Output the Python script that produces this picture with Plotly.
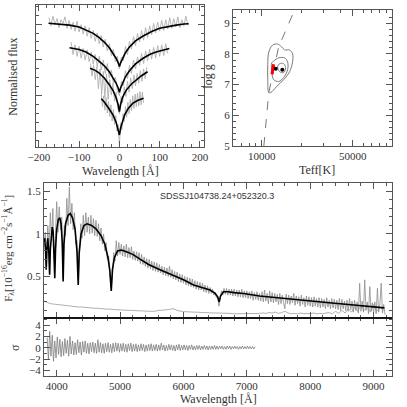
import numpy as np
import plotly.graph_objects as go

# ---------------- top-left: normalised Balmer line profiles (offset) ----------------
hb_model_x = [-176, -150, -124, -100, -83, -65, -50, -37, -25, -15, -8, -3, 0, 3, 8, 15, 25, 40, 58, 80, 100, 120, 141, 160, 172]
hb_model_y = [4.02, 4.00, 3.97, 3.92, 3.84, 3.74, 3.62, 3.49, 3.34, 3.18, 3.04, 2.92, 2.82, 2.92, 3.05, 3.20, 3.36, 3.53, 3.66, 3.79, 3.88, 3.93, 3.97, 4.00, 4.01]
hg_model_x = [-124, -100, -83, -65, -50, -37, -25, -15, -8, -3, 0, 3, 8, 15, 25, 40, 58, 75, 91, 108, 124]
hg_model_y = [3.34, 3.29, 3.22, 3.10, 2.96, 2.83, 2.67, 2.50, 2.35, 2.22, 2.10, 2.22, 2.37, 2.53, 2.70, 2.89, 3.04, 3.15, 3.22, 3.28, 3.32]
hd_model_x = [-73, -60, -50, -37, -25, -15, -8, -3, 0, 3, 8, 17, 30, 41, 55, 70]
hd_model_y = [2.77, 2.71, 2.63, 2.49, 2.31, 2.13, 1.94, 1.75, 1.56, 1.76, 1.96, 2.16, 2.33, 2.44, 2.56, 2.67]
he_model_x = [-45, -37, -27, -16, -8, -3, 0, 3, 8, 13, 22, 33, 45, 60]
he_model_y = [1.92, 1.82, 1.66, 1.47, 1.26, 1.08, 0.91, 1.10, 1.30, 1.47, 1.65, 1.79, 1.87, 1.93]

hb_data = [4.18, 3.95, 4.22, 3.98, 4.15, 3.90, 4.12, 4.02, 4.20, 3.88,
           4.10, 3.85, 4.05, 3.80, 4.08, 3.78, 3.98, 3.72, 3.95, 3.66,
           3.90, 3.60, 3.82, 3.52, 3.75, 3.45, 3.68, 3.36, 3.58, 3.25,
           3.45, 3.12, 3.30, 2.95, 3.10, 2.75, 3.08, 2.98, 3.38, 3.15,
           3.52, 3.30, 3.65, 3.40, 3.74, 3.50, 3.82, 3.55, 3.90, 3.62,
           3.95, 3.70, 4.02, 3.75, 4.05, 3.80, 4.10, 3.82, 4.12, 3.86,
           4.18, 3.88, 4.15, 3.92, 4.20, 3.90, 4.12, 3.95, 4.22, 3.96]
hg_data = [3.50, 3.15, 3.42, 3.10, 3.38, 3.05, 3.32, 3.00, 3.28, 2.95,
           3.22, 2.88, 3.15, 2.80, 3.10, 2.72, 3.00, 2.62, 2.90, 2.50,
           2.72, 2.35, 2.52, 2.15, 2.00, 2.40, 2.28, 2.70, 2.48, 2.85,
           2.62, 3.00, 2.75, 3.08, 2.85, 3.18, 2.90, 3.25, 2.98, 3.30,
           3.02, 3.35, 3.05, 3.40, 3.10, 3.42, 3.12, 3.45, 3.18]
hd_data = [2.90, 2.55, 2.85, 2.45, 2.80, 2.20, 2.75, 2.05, 2.68, 1.95,
           2.60, 1.90, 2.45, 2.02, 2.35, 1.85, 2.10, 1.65, 1.50, 1.98,
           1.80, 2.25, 1.98, 2.40, 2.10, 2.50, 2.20, 2.58, 2.28, 2.62,
           2.35, 2.70, 2.40, 2.75, 2.48, 2.80]
he_data = [2.05, 1.70, 2.00, 1.60, 1.95, 1.52, 1.85, 1.42, 1.75, 1.30,
           1.62, 1.20, 1.45, 1.02, 1.20, 0.62, 1.25, 1.05, 1.50, 1.28,
           1.70, 1.40, 1.82, 1.50, 1.90, 1.58, 2.00, 1.65, 2.05, 1.70,
           2.08, 1.72, 2.12, 1.75, 2.10, 1.80]

# ---------------- top-right: chi^2 contours in Teff / log g ----------------
c_outer_teff = [11300, 11100, 11100, 11300, 12120, 13230, 14190, 14960, 16330, 17220, 17220, 16330, 14690, 13000, 11700, 11300]
c_outer_logg = [6.74, 7.16, 7.65, 8.06, 8.29, 8.32, 8.23, 8.13, 8.13, 8.00, 7.74, 7.42, 7.16, 6.94, 6.74, 6.74]
c_mid_teff = [11910, 11910, 12340, 13460, 14690, 15760, 15760, 14960, 13460, 12340, 11910]
c_mid_logg = [7.71, 7.42, 7.16, 7.10, 7.23, 7.48, 7.74, 7.87, 7.87, 7.77, 7.71]
c_in_teff = [13230, 13700, 14690, 15220, 14690, 13700, 13230]
c_in_logg = [7.58, 7.42, 7.39, 7.55, 7.68, 7.68, 7.58]
best_teff = [12780, 14360]
best_logg = [7.52, 7.48]
red_teff = [12300, 12150, 12020, 11950, 12080]
red_logg = [7.66, 7.56, 7.45, 7.34, 7.42]
max_teff = [10356, 11300, 13460, 17820]
max_logg = [5.00, 6.74, 8.23, 9.42]

# ---------------- main: SDSS spectrum, model, noise ----------------
spec_start, spec_step = 3800, 20
spec_flux = [0.85, 1.02, 0.62, 1.10, 0.80, 1.25, 0.92, 1.30, 0.70, 0.95,
             1.38, 1.02, 1.32, 1.05, 1.20, 0.48, 1.10, 0.98, 1.42, 1.10,
             1.55, 1.12, 1.36, 1.05, 1.25, 0.88, 0.92, 0.45, 0.75, 1.12,
             0.95, 1.22, 0.98, 1.25, 1.02, 1.20, 1.00, 1.22, 1.01, 1.18,
             0.98, 1.16, 0.97, 1.12, 0.92, 1.07, 0.88, 1.00, 0.80, 0.90,
             0.70, 0.74, 0.50, 0.37, 0.52, 0.78, 0.68, 0.92, 0.74, 0.90,
             0.76, 0.88, 0.74, 0.86, 0.73, 0.88, 0.72, 0.84, 0.72, 0.85,
             0.70, 0.80, 0.69, 0.79, 0.68, 0.78, 0.65, 0.76, 0.64, 0.73,
             0.62, 0.71, 0.60, 0.70, 0.59, 0.68, 0.57, 0.67, 0.56, 0.66,
             0.55, 0.64, 0.54, 0.62, 0.52, 0.61, 0.51, 0.60, 0.50, 0.62,
             0.49, 0.58, 0.47, 0.56, 0.46, 0.55, 0.44, 0.53, 0.43, 0.52,
             0.42, 0.50, 0.40, 0.49, 0.39, 0.48, 0.38, 0.47, 0.37, 0.45,
             0.35, 0.44, 0.34, 0.43, 0.34, 0.42, 0.32, 0.40, 0.31, 0.39,
             0.30, 0.37, 0.30, 0.35, 0.28, 0.31, 0.25, 0.27, 0.15, 0.24,
             0.33, 0.28, 0.36, 0.29, 0.36, 0.28, 0.35, 0.28, 0.35, 0.27,
             0.35, 0.27, 0.34, 0.26, 0.34, 0.26, 0.35, 0.25, 0.33, 0.25,
             0.33, 0.24, 0.32, 0.24, 0.33, 0.22, 0.31, 0.23, 0.32, 0.22,
             0.30, 0.21, 0.32, 0.20, 0.34, 0.21, 0.30, 0.18, 0.33, 0.20,
             0.31, 0.19, 0.30, 0.20, 0.29, 0.17, 0.30, 0.18, 0.28, 0.19,
             0.12, 0.29, 0.18, 0.28, 0.17, 0.27, 0.19, 0.30, 0.16, 0.27,
             0.18, 0.26, 0.15, 0.28, 0.17, 0.25, 0.14, 0.27, 0.16, 0.26,
             0.15, 0.25, 0.14, 0.26, 0.15, 0.24, 0.14, 0.25, 0.13, 0.24,
             0.14, 0.23, 0.12, 0.25, 0.14, 0.22, 0.12, 0.24, 0.13, 0.23,
             0.12, 0.22, 0.11, 0.24, 0.10, 0.23, 0.12, 0.21, 0.10, 0.22,
             0.09, 0.24, 0.11, 0.21, 0.08, 0.22, 0.10, 0.20, 0.07, 0.42,
             0.09, 0.21, 0.08, 0.46, 0.10, 0.20, 0.06, 0.38, 0.09, 0.19,
             0.07, 0.20, 0.06, 0.36, 0.08, 0.18, 0.42, 0.07, 0.17, 0.05]

model_wave = [3800, 3812, 3825, 3835, 3845, 3860, 3875, 3889, 3900, 3915, 3930, 3945, 3958, 3970, 3982,
              4000, 4025, 4050, 4070, 4088, 4102, 4115, 4140, 4180, 4215, 4250, 4290, 4320, 4340, 4355,
              4385, 4430, 4480, 4550, 4620, 4700, 4760, 4810, 4840, 4861, 4880, 4910, 4960, 5020, 5100,
              5200, 5320, 5450, 5630, 5790, 6000, 6160, 6300, 6420, 6500, 6540, 6563, 6585, 6630, 6700,
              6800, 6950, 7200, 7450, 7700, 8000, 8300, 8600, 8900, 9170]
model_flux = [0.90, 0.95, 0.80, 0.58, 0.82, 0.95, 0.80, 0.52, 0.82, 1.02, 1.08, 1.02, 0.82, 0.48, 0.82,
              1.05, 1.17, 1.19, 1.12, 0.90, 0.44, 0.88, 1.12, 1.22, 1.24, 1.19, 1.06, 0.80, 0.40, 0.78,
              1.00, 1.10, 1.12, 1.10, 1.06, 0.98, 0.88, 0.72, 0.56, 0.33, 0.58, 0.72, 0.80, 0.81, 0.79,
              0.76, 0.70, 0.64, 0.58, 0.53, 0.46, 0.40, 0.37, 0.34, 0.30, 0.26, 0.20, 0.27, 0.32, 0.32,
              0.31, 0.30, 0.27, 0.25, 0.23, 0.21, 0.19, 0.17, 0.15, 0.13]

err_start, err_step = 3800, 50
err_flux = [0.21, 0.19, 0.18, 0.175, 0.17, 0.165, 0.16, 0.155, 0.15, 0.15,
            0.145, 0.14, 0.14, 0.135, 0.13, 0.13, 0.125, 0.125, 0.12, 0.12,
            0.115, 0.115, 0.11, 0.11, 0.105, 0.105, 0.10, 0.10, 0.10, 0.095,
            0.095, 0.095, 0.09, 0.09, 0.09, 0.09, 0.10, 0.10, 0.105, 0.11,
            0.115, 0.12, 0.10, 0.09, 0.085, 0.085, 0.08, 0.08, 0.08, 0.075,
            0.075, 0.075, 0.07, 0.07, 0.07, 0.07, 0.065, 0.065, 0.065, 0.065,
            0.06, 0.06, 0.06, 0.06, 0.06, 0.06, 0.06, 0.06, 0.065, 0.07,
            0.065, 0.075, 0.07, 0.08, 0.065, 0.075, 0.09, 0.07, 0.06, 0.065,
            0.06, 0.07, 0.06, 0.065, 0.06, 0.07, 0.06, 0.065, 0.06, 0.07,
            0.075, 0.06, 0.09, 0.065, 0.10, 0.07, 0.12, 0.08, 0.14, 0.09,
            0.16, 0.10, 0.15, 0.08, 0.17, 0.09, 0.14, 0.10]

# ---------------- bottom: normalised residuals ----------------
res_start, res_step = 3850, 20
res_sigma = [1.8, -2.1, 2.9, -1.5, 2.2, -2.4, 1.2, -1.8, 1.9, -1.2,
             1.5, -1.6, 1.1, -1.4, 1.6, -1.0, 1.3, -1.5, 2.0, -1.1,
             1.2, -1.3, 0.9, -1.2, 1.4, -0.9, 1.0, -1.3, 1.1, -0.8,
             1.2, -1.0, 0.8, -1.1, 0.9, -0.7, 1.0, -0.9, 0.8, -1.0,
             1.4, -0.8, 0.9, -0.9, 0.7, -1.0, 0.8, -0.7, 0.9, -0.8,
             0.6, -0.9, 0.8, -0.7, 0.9, -0.6, 0.8, -0.8, 0.7, -0.6,
             0.8, -0.7, 0.6, -0.8, 0.7, -0.5, 0.8, -0.7, 0.6, -0.6,
             0.7, -0.7, 0.5, -0.6, 0.7, -0.5, 0.6, -0.7, 0.5, -0.6,
             0.6, -0.5, 0.7, -0.6, 0.5, -0.5, 0.6, -0.6, 0.5, -0.5,
             0.8, -0.4, 0.5, -0.6, 0.4, -0.5, 0.6, -0.4, 0.5, -0.5,
             0.4, -0.6, 0.5, -0.4, 0.6, -0.5, 0.4, -0.4, 0.5, -0.4,
             0.4, -0.5, 0.4, -0.3, 0.5, -0.4, 0.3, -0.4, 0.4, -0.3,
             0.4, -0.4, 0.3, -0.3, 0.4, -0.3, 0.3, -0.4, 0.3, -0.3,
             0.3, -0.3, 0.4, -0.3, 0.3, -0.3, 0.3, -0.2, 0.3, -0.3,
             0.2, -0.3, 0.3, -0.2, 0.3, -0.3, 0.2, -0.2, 0.3, -0.2,
             0.2, -0.3, 0.2, -0.2, 0.3, -0.2, 0.2, -0.2, 0.3, -0.2,
             0.2, -0.2, 0.2, -0.2, 0.2]

object_name = "SDSSJ104738.24+052320.3"


def grid(start, step, values):
    return start + step * np.arange(len(values))


W = H = 407
SERIF = "Liberation Serif"
TXT = "#333333"
AX = "#555555"

fig = go.Figure()

# top-left panel
for start, step, ys in [(-175, 5, hb_data), (-120, 5, hg_data), (-72, 4, hd_data), (-45, 3, he_data)]:
    fig.add_trace(go.Scatter(x=grid(start, step, ys), y=ys, mode="lines",
                             line=dict(color="#b0b0b0", width=0.9), xaxis="x", yaxis="y"))
for mx, my in [(hb_model_x, hb_model_y), (hg_model_x, hg_model_y),
               (hd_model_x, hd_model_y), (he_model_x, he_model_y)]:
    fig.add_trace(go.Scatter(x=mx, y=my, mode="lines", line=dict(color="black", width=1.6),
                             xaxis="x", yaxis="y"))

# top-right panel
fig.add_trace(go.Scatter(x=max_teff, y=max_logg, mode="lines",
                         line=dict(color="#777777", width=1, dash="dash"), xaxis="x2", yaxis="y2"))
for tx, gy in [(c_outer_teff, c_outer_logg), (c_mid_teff, c_mid_logg), (c_in_teff, c_in_logg)]:
    fig.add_trace(go.Scatter(x=tx, y=gy, mode="lines", line=dict(color="#7a7a7a", width=1),
                             line_shape="spline", xaxis="x2", yaxis="y2"))
fig.add_trace(go.Scatter(x=red_teff, y=red_logg, mode="lines", line=dict(color="red", width=3),
                         xaxis="x2", yaxis="y2"))
fig.add_trace(go.Scatter(x=best_teff, y=best_logg, mode="markers",
                         marker=dict(color="black", size=4), xaxis="x2", yaxis="y2"))

# main spectrum panel
fig.add_trace(go.Scatter(x=grid(err_start, err_step, err_flux), y=err_flux, mode="lines",
                         line=dict(color="#9a9a9a", width=0.8), xaxis="x3", yaxis="y3"))
fig.add_trace(go.Scatter(x=grid(spec_start, spec_step, spec_flux), y=spec_flux, mode="lines",
                         line=dict(color="#8c8c8c", width=0.8), xaxis="x3", yaxis="y3"))
fig.add_trace(go.Scatter(x=model_wave, y=model_flux, mode="lines", line=dict(color="black", width=1.6),
                         xaxis="x3", yaxis="y3"))

# residual panel
fig.add_trace(go.Scatter(x=grid(res_start, res_step, res_sigma), y=res_sigma, mode="lines",
                         line=dict(color="#7d7d7d", width=0.8), xaxis="x4", yaxis="y4"))

tickfont = dict(family=SERIF, size=11, color=TXT)


def ax(**kw):
    base = dict(showline=True, linecolor=AX, linewidth=1, mirror="ticks", ticks="inside",
                ticklen=6, tickcolor=AX, showgrid=False, zeroline=False, tickfont=tickfont,
                automargin=False)
    base.update(kw)
    return base


def minor(**kw):
    return dict(ticks="inside", ticklen=3, tickcolor=AX, showgrid=False, **kw)


fig.update_layout(
    template="none",
    width=W, height=H, margin=dict(l=0, r=0, t=0, b=0, pad=0),
    paper_bgcolor="white", plot_bgcolor="white", showlegend=False,
    xaxis=ax(domain=[0.0885, 0.5012], range=[-207, 210], tickvals=[-200, -100, 0, 100, 200],
             minor=minor(dtick=20), anchor="y"),
    yaxis=ax(domain=[0.6388, 0.9877], range=[0.574, 4.53], dtick=1, tick0=0, showticklabels=False,
             minor=minor(dtick=0.25, tick0=0), anchor="x"),
    xaxis2=ax(domain=[0.5725, 0.9631], type="log", range=[np.log10(6000), 5],
              tickvals=[10000, 50000], ticktext=["10000", "50000"],
              minor=minor(tickvals=[7000, 8000, 9000, 20000, 30000, 40000, 60000, 70000, 80000, 90000]),
              anchor="y2"),
    yaxis2=ax(domain=[0.6413, 0.9754], range=[5.0, 9.43], dtick=1, tick0=0,
              minor=minor(dtick=0.2, tick0=0), anchor="x2"),
    xaxis3=ax(domain=[0.1081, 0.9631], range=[3800, 9290], dtick=1000, tick0=0, showticklabels=False,
              minor=minor(dtick=200, tick0=0), anchor="y3"),
    yaxis3=ax(domain=[0.2187, 0.5504], range=[0.011, 1.6], tickvals=[0.5, 1, 1.5],
              ticktext=["0.5", "1", "1.5"], minor=minor(dtick=0.1, tick0=0), anchor="x3"),
    xaxis4=ax(domain=[0.1081, 0.9631], range=[3800, 9290], dtick=1000, tick0=0,
              minor=minor(dtick=200, tick0=0), anchor="y4"),
    yaxis4=ax(domain=[0.0762, 0.2187], range=[-5.0, 5.25], tickvals=[-4, -2, 0, 2, 4],
              minor=minor(dtick=1, tick0=0), anchor="x4"),
)

# boundary between spectrum and residual panels
fig.add_shape(type="line", xref="paper", yref="paper", x0=0.1081, x1=0.9631, y0=0.2187, y1=0.2187,
              line=dict(color="black", width=1.5))

labels = [
    ("Normalised flux", 0.030, 0.812, -90, 12),
    ("Wavelength [Å]", 0.295, 0.580, 0, 12),
    ("log g", 0.509, 0.812, -90, 12),
    ("Teff[K]", 0.779, 0.582, 0, 12),
    ("F<sub>λ</sub>[10<sup>−16</sup>erg cm<sup>−2</sup>s<sup>−1</sup>Å<sup>−1</sup>]", 0.021, 0.390, -90, 11),
    ("σ", 0.037, 0.145, -90, 12),
    ("Wavelength [Å]", 0.536, 0.020, 0, 12),
]
for text, x, y, ang, size in labels:
    fig.add_annotation(text=text, x=x, y=y, xref="paper", yref="paper", showarrow=False,
                       textangle=ang, xanchor="center", yanchor="middle",
                       font=dict(family=SERIF, size=size, color=TXT))

fig.add_annotation(text=object_name, x=0.533, y=0.518, xref="paper", yref="paper", showarrow=False,
                   xanchor="center", yanchor="middle",
                   font=dict(family="Liberation Sans", size=9, color=TXT))

# page body has a default margin; drop it so the figure sits at the window corner
fig.write_html("out.html", config={"displayModeBar": False},
               post_script="document.body.style.margin='0';")
